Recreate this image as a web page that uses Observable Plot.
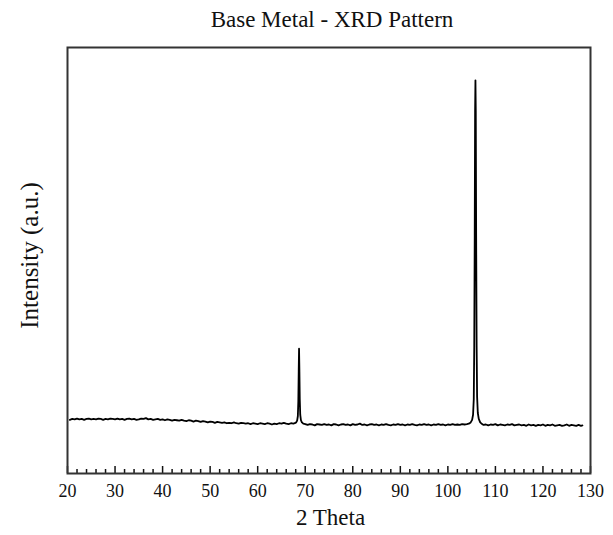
<!DOCTYPE html>
<html>
<head>
<meta charset="utf-8">
<script src="https://cdn.jsdelivr.net/npm/d3@7"></script>
<script src="https://cdn.jsdelivr.net/npm/@observablehq/plot@0.6"></script>
<style>
  body { margin: 0; background: #fff; }
  #wrap { position: relative; width: 613px; height: 535px; padding-top: 40px; box-sizing: border-box; }
  #title { position: absolute; left: 332px; top: 8px; transform: translateX(-50%);
           font: 23px/23px "Liberation Serif", "Times New Roman", serif; color: #111; white-space: nowrap; }
</style>
</head>
<body>
<div id="wrap">
  <div id="title">Base Metal - XRD Pattern</div>
  <div id="chart"></div>
</div>
<script>
// 2θ (degrees) and intensity (a.u.)
const lowAngle = [
  [20.5,126],[21,128],[21.5,127],[22,129],[22.5,127],[23,128],[23.5,126],[24,128],[24.5,129],[25,127],
  [25.5,128],[26,127],[26.5,129],[27,128],[27.5,126],[28,128],[28.5,127],[29,129],[29.5,128],[30,127],
  [30.5,129],[31,127],[31.5,128],[32,126],[32.5,128],[33,129],[33.5,127],[34,128],[34.5,126],[35,127],
  [35.5,129],[36,128],[36.5,130],[37,127],[37.5,128],[38,126],[38.5,127],[39,128],[39.5,126],[40,127],
  [40.5,125],[41,127],[41.5,126],[42,124],[42.5,126],[43,125],[43.5,124],[44,126],[44.5,124],[45,123],
  [45.5,125],[46,124],[46.5,122],[47,124],[47.5,123],[48,121],[48.5,123],[49,122],[49.5,120],[50,122],
  [50.5,121],[51,119],[51.5,121],[52,120],[52.5,119],[53,120],[53.5,118],[54,119],[54.5,118],[55,120],
  [55.5,118],[56,117],[56.5,119],[57,118],[57.5,117],[58,118],[58.5,116],[59,118],[59.5,117],[60,116],
  [60.5,118],[61,117],[61.5,116],[62,118],[62.5,117],[63,115],[63.5,117],[64,116],[64.5,118],[65,117],
  [65.5,119],[66,117],[66.5,116],[67,118],[67.5,117]
];
const peak1 = [
  [67.8,118],[68.1,120],[68.3,124],[68.45,135],[68.55,170],[68.63,240],[68.7,293],[68.77,245],
  [68.85,175],[68.95,138],[69.1,125],[69.3,120],[69.6,117]
];
const midAngle = [
  [70,116],[70.5,114],[71,116],[71.5,115],[72,113],[72.5,116],[73,115],[73.5,114],[74,116],[74.5,114],
  [75,115],[75.5,113],[76,116],[76.5,115],[77,113],[77.5,115],[78,116],[78.5,114],[79,115],[79.5,113],
  [80,116],[80.5,114],[81,115],[81.5,117],[82,114],[82.5,115],[83,113],[83.5,115],[84,116],[84.5,114],
  [85,115],[85.5,113],[86,115],[86.5,114],[87,116],[87.5,114],[88,113],[88.5,115],[89,114],[89.5,116],
  [90,114],[90.5,115],[91,113],[91.5,115],[92,114],[92.5,116],[93,114],[93.5,113],[94,115],[94.5,114],
  [95,116],[95.5,114],[96,115],[96.5,113],[97,115],[97.5,114],[98,116],[98.5,114],[99,115],[99.5,113],
  [100,115],[100.5,114],[101,116],[101.5,114],[102,115],[102.5,114],[103,116],[103.5,115],[104,116]
];
const peak2 = [
  [104.4,117],[104.8,120],[105.1,126],[105.3,138],[105.45,175],[105.55,300],[105.65,560],[105.73,850],
  [105.8,923],[105.87,850],[105.95,560],[106.05,300],[106.15,180],[106.3,142],[106.5,128],[106.8,120],
  [107.2,116]
];
const highAngle = [
  [107.5,114],[108,115],[108.5,113],[109,115],[109.5,114],[110,116],[110.5,113],[111,115],[111.5,114],
  [112,113],[112.5,115],[113,114],[113.5,116],[114,113],[114.5,114],[115,115],[115.5,113],[116,114],
  [116.5,112],[117,115],[117.5,113],[118,114],[118.5,112],[119,114],[119.5,113],[120,115],[120.5,112],
  [121,114],[121.5,113],[122,115],[122.5,112],[123,113],[123.5,114],[124,112],[124.5,113],[125,115],
  [125.5,112],[126,114],[126.5,113],[127,112],[127.5,114],[128,112],[128.3,113]
];
const majorTicks = [20, 30, 40, 50, 60, 70, 80, 90, 100, 110, 120, 130];
const minorTicks = [22,24,26,28,32,34,36,38,42,44,46,48,52,54,56,58,62,64,66,68,72,74,76,78,
  82,84,86,88,92,94,96,98,102,104,106,108,112,114,116,118,122,124,126,128];
const xLabel = "2 Theta";
const yLabel = "Intensity (a.u.)";

const pattern = [...lowAngle, ...peak1, ...midAngle, ...peak2, ...highAngle]
  .map(([theta, intensity]) => ({theta, intensity}));

const W = 613, H = 495, mT = 7, mB = 62, mL = 67, mR = 23;
const innerH = H - mT - mB;
const serif = "'Liberation Serif', 'Times New Roman', serif";

const chart = Plot.plot({
  width: W, height: H,
  marginTop: mT, marginBottom: mB, marginLeft: mL, marginRight: mR,
  style: {fontFamily: serif, background: "#fff", color: "#111"},
  x: {domain: [20, 130]},
  y: {domain: [0, 1000], axis: null},
  marks: [
    Plot.line(pattern, {x: "theta", y: "intensity", stroke: "#000", strokeWidth: 1.8}),
    Plot.tickX(majorTicks, {x: d => d, stroke: "#111", strokeWidth: 1.5, insetTop: innerH - 7}),
    Plot.tickX(minorTicks, {x: d => d, stroke: "#111", strokeWidth: 1.5, insetTop: innerH - 4}),
    Plot.axisX(majorTicks, {tickSize: 0, tickPadding: 11, fontSize: 18, label: null, fill: "#111"}),
    Plot.frame({stroke: "#333", strokeWidth: 2}),
    Plot.text([xLabel], {frameAnchor: "bottom", dy: 51, dx: 1.5, fontSize: 23, fill: "#111"}),
    Plot.text([yLabel], {frameAnchor: "left", textAnchor: "middle", rotate: -90, dx: -38, dy: -5, fontSize: 25, fill: "#111"})
  ]
});
document.getElementById("chart").appendChild(chart);
</script>
</body>
</html>
